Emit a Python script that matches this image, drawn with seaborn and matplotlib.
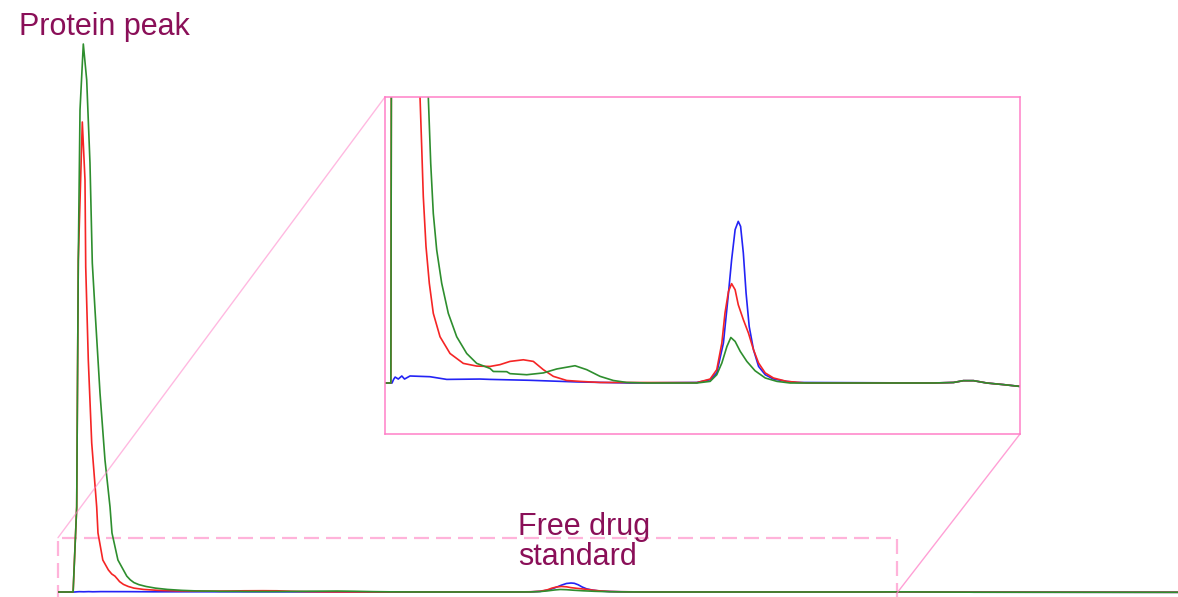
import numpy as np
import pandas as pd
import matplotlib
matplotlib.use("Agg")
import matplotlib.pyplot as plt
import seaborn as sns
from matplotlib.patches import Rectangle
from matplotlib.lines import Line2D

# ---------------- data (time in min, signal in arbitrary units) ----------------
t_blue = [0.00, 0.27, 0.30, 0.34, 0.38, 0.46, 0.55, 0.62, 0.76, 1.01, 1.27, 1.70, 2.55,
          2.81, 3.83, 5.03, 6.39, 8.10, 8.44, 8.61, 8.78, 8.91, 8.99, 9.08, 9.16, 9.22,
          9.29, 9.36, 9.44, 9.55, 9.68, 9.85, 10.06, 10.40, 10.66, 14.15, 14.67, 14.92,
          15.18, 15.52, 15.95, 16.37, 20.0]
y_blue = [0, 0, 0, 0.20, 0.33, 0.22, 0.39, 0.22, 0.39, 0.37, 0.35, 0.20, 0.22,
          0.20, 0.15, 0.06, 0, 0.03, 0.18, 0.56, 2.22, 5.00, 6.84, 8.52, 8.98, 8.70,
          7.22, 5.00, 3.14, 1.85, 0.92, 0.46, 0.22, 0.09, 0.03, 0, 0.03, 0.13,
          0.13, 0, -0.09, -0.19, -0.3]

t_red = [0.00, 0.27, 0.334, 0.3625, 0.434, 0.482, 0.495, 0.541, 0.602, 0.691, 0.714,
         0.80, 0.90, 0.96, 1.016, 1.059, 1.100, 1.169, 1.254, 1.356, 1.528, 1.784, 2.124,
         2.467, 2.807, 3.063, 3.319, 3.660, 3.916, 4.172, 4.428, 4.771, 5.111, 5.623,
         6.135, 8.10, 8.44, 8.61, 8.74, 8.82, 8.91, 8.99, 9.08, 9.16, 9.29, 9.42, 9.55,
         9.68, 9.85, 10.06, 10.40, 10.90, 14.15, 14.67, 14.92, 15.18, 15.52, 15.95,
         16.37, 20.0]
y_red = [0, 0, 85, 332, 470, 412, 325, 232, 149, 85, 59,
         32, 22, 18, 15.9, 13.13, 10.36, 7.59, 5.54, 3.87, 2.57, 1.64, 1.09,
         0.94, 0.92, 1.02, 1.20, 1.29, 1.20, 0.74, 0.37, 0.14, 0.09, 0.03,
         0.03, 0.02, 0.22, 0.74, 2.22, 3.88, 5.09, 5.52, 5.18, 4.35, 3.52, 2.78, 1.85,
         1.11, 0.56, 0.28, 0.09, 0, 0, 0.03, 0.13, 0.13, 0, -0.09,
         -0.19, -0.3]

t_green = [0.00, 0.27, 0.334, 0.3625, 0.393, 0.452, 0.5125, 0.571, 0.6125, 0.661, 0.75,
           0.839, 0.929, 0.964, 1.07, 1.228, 1.290, 1.356, 1.443, 1.571, 1.740, 1.955,
           2.211, 2.467, 2.807, 2.892, 3.235, 3.319, 3.747, 4.172, 4.515, 4.983, 5.283,
           5.623, 5.963, 6.306, 6.818, 8.10, 8.44, 8.61, 8.74, 8.87, 8.97, 9.08, 9.21,
           9.38, 9.59, 9.85, 10.15, 10.49, 14.15, 14.67, 14.92, 15.18, 15.52, 15.95,
           16.37, 20.0]
y_green = [0, 0, 85, 332, 482, 548, 512, 429, 329, 282, 199,
           132, 85, 59, 32, 15.9, 12.2, 9.42, 7.39, 5.54, 3.87, 2.57,
           1.64, 1.09, 0.81, 0.64, 0.63, 0.52, 0.46, 0.56, 0.78, 0.96, 0.74,
           0.37, 0.14, 0.03, 0, 0, 0.09, 0.46, 1.11, 2.03, 2.53, 2.31, 1.76,
           1.20, 0.68, 0.28, 0.09, 0, 0, 0.03, 0.13, 0.13, 0, -0.09,
           -0.19, -0.3]

series_names = ["blue", "red", "green"]
label_protein = "Protein peak"
label_drug = ["Free drug", "standard"]

# ---------------- style ----------------
sns.set_style("white")
plt.rcParams['font.family'] = ['Liberation Sans', 'DejaVu Sans']

colors = {"blue": "#2323F5", "red": "#F52525", "green": "#2E8E2E"}
pink = "#FF80C8"
pink_light = "#FFB3DA"
txt_col = "#8A0F58"

W, H = 1178, 597
fig = plt.figure(figsize=(W / 100, H / 100), dpi=100)

def fx(px):
    return px / W

def fy(py):
    return 1 - py / H

series = {
    "blue": pd.DataFrame({"t": t_blue, "y": y_blue}),
    "red": pd.DataFrame({"t": t_red, "y": y_red}),
    "green": pd.DataFrame({"t": t_green, "y": y_green}),
}

# ---------------- main axes ----------------
ax = fig.add_axes([fx(58), 0, fx(1178) - fx(58), 1])
for name in series_names:
    sns.lineplot(data=series[name], x="t", y="y", color=colors[name], lw=1.2,
                 estimator=None, sort=False, ax=ax, legend=False)
ax.set_xlim(0, 20)
ax.set_ylim(-5, 592)
ax.axis("off")

# dashed zoom rectangle
ax.add_patch(Rectangle((0, -8), 14.98, 62, fill=False, edgecolor=pink_light,
                       lw=1.6, linestyle=(0, (6.75, 3.15)), clip_on=False, zorder=1))

# ---------------- inset axes ----------------
axin = fig.add_axes([fx(385), fy(434), fx(1020) - fx(385), fy(97) - fy(434)])
for name in series_names:
    sns.lineplot(data=series[name], x="t", y="y", color=colors[name], lw=1.2,
                 estimator=None, sort=False, ax=axin, legend=False)
axin.set_xlim(0.12, 16.37)
axin.set_ylim(-2.833, 15.889)
axin.set_xticks([])
axin.set_yticks([])
axin.set_xlabel("")
axin.set_ylabel("")
for sp in axin.spines.values():
    sp.set_visible(True)
    sp.set_edgecolor(pink)
    sp.set_linewidth(1.1)

# connecting lines
fig.add_artist(Line2D([fx(385), fx(58)], [fy(97), fy(537.7)], color=pink, lw=1.0, alpha=0.55))
fig.add_artist(Line2D([fx(1020), fx(897)], [fy(434), fy(593)], color=pink, lw=1.0, alpha=0.75))

# ---------------- labels ----------------
fig.text(fx(19), fy(35), label_protein, fontsize=22, color=txt_col, va="baseline", ha="left")
fig.text(fx(518), fy(535), label_drug[0], fontsize=22, color=txt_col, va="baseline", ha="left")
fig.text(fx(518), fy(565), label_drug[1], fontsize=22, color=txt_col, va="baseline", ha="left")

fig.savefig("out.png", dpi=100)
